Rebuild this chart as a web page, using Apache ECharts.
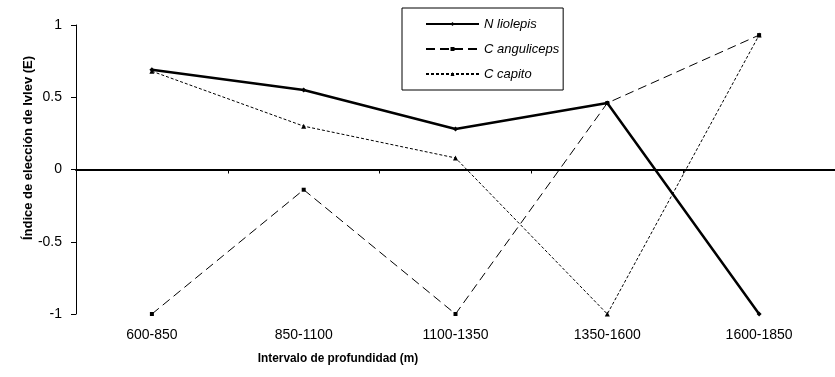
<!DOCTYPE html>
<html>
<head>
<meta charset="utf-8">
<script src="https://cdn.jsdelivr.net/npm/echarts@6/dist/echarts.min.js"></script>
<style>
  html, body { margin: 0; padding: 0; background: #fff; }
  #chart { width: 835px; height: 377px; }
</style>
</head>
<body>
<div id="chart"></div>
<script>
// Depth intervals (m)
const depthIntervals = ['600-850', '850-1100', '1100-1350', '1350-1600', '1600-1850'];

// Ivlev electivity index (E) per species
const nLiolepis    = [0.69, 0.55, 0.28, 0.46, -1];
const cAnguliceps  = [-1, -0.14, -1, 0.46, 0.93];
const cCapito      = [0.68, 0.30, 0.08, -1, 0.93];

const seriesNames = ['N liolepis', 'C anguliceps', 'C capito'];
const yTicks = { min: -1, max: 1, step: 0.5 };

const FONT = 'Liberation Sans, Arial, sans-serif';

const chart = echarts.init(document.getElementById('chart'), null, { renderer: 'canvas' });

chart.setOption({
  backgroundColor: '#ffffff',
  animation: false,
  textStyle: { fontFamily: FONT, color: '#000' },
  grid: { left: 76, top: 25, width: 769, height: 289, containLabel: false },
  legend: {
    orient: 'vertical',
    left: 402,
    top: 8,
    padding: [9, 4, 9, 23],
    itemGap: 11,
    itemWidth: 53,
    itemHeight: 5,
    borderColor: '#000',
    borderWidth: 1,
    backgroundColor: '#fff',
    data: seriesNames,
    textStyle: { fontFamily: FONT, fontSize: 13, fontStyle: 'italic', color: '#000', lineHeight: 14 }
  },
  xAxis: [
    {
      // zero line with boundary ticks
      type: 'category',
      data: depthIntervals,
      position: 'bottom',
      boundaryGap: true,
      axisLine: { show: true, onZero: true, lineStyle: { color: '#000', width: 2 } },
      axisTick: { show: true, length: 4, lineStyle: { color: '#000', width: 1 } },
      axisLabel: { show: false },
      splitLine: { show: false }
    },
    {
      // category labels along the bottom
      type: 'category',
      data: depthIntervals,
      position: 'bottom',
      boundaryGap: true,
      axisLine: { show: false, onZero: false },
      axisTick: { show: false },
      axisLabel: { show: true, margin: 14, fontSize: 14, color: '#000', fontFamily: FONT },
      splitLine: { show: false }
    }
  ],
  yAxis: {
    type: 'value',
    min: yTicks.min,
    max: yTicks.max,
    interval: yTicks.step,
    axisLine: { show: true, lineStyle: { color: '#000', width: 1 } },
    axisTick: { show: true, length: 5, lineStyle: { color: '#000', width: 1 } },
    axisLabel: { margin: 14, fontSize: 14, color: '#000', fontFamily: FONT },
    splitLine: { show: false }
  },
  graphic: [
    {
      type: 'text',
      x: 28, y: 148,
      rotation: Math.PI / 2,
      style: {
        text: 'Índice de elección de Ivlev (E)',
        font: 'bold 13px ' + FONT,
        fill: '#000',
        align: 'center',
        verticalAlign: 'middle'
      }
    },
    {
      type: 'text',
      x: 338, y: 358,
      scaleX: 0.91,
      style: {
        text: 'Intervalo de profundidad (m)',
        font: 'bold 13px ' + FONT,
        fill: '#000',
        align: 'center',
        verticalAlign: 'middle'
      }
    }
  ],
  series: [
    {
      name: seriesNames[0],
      type: 'line',
      data: nLiolepis,
      xAxisIndex: 0,
      symbol: 'diamond',
      symbolSize: 5,
      showSymbol: true,
      z: 4,
      lineStyle: { color: '#000', width: 2.5, type: 'solid' },
      itemStyle: { color: '#000' }
    },
    {
      name: seriesNames[1],
      type: 'line',
      data: cAnguliceps,
      xAxisIndex: 0,
      symbol: 'rect',
      symbolSize: 4,
      showSymbol: true,
      z: 3,
      lineStyle: { color: '#000', width: 1, type: [9, 5] },
      itemStyle: { color: '#000' }
    },
    {
      name: seriesNames[2],
      type: 'line',
      data: cCapito,
      xAxisIndex: 0,
      symbol: 'triangle',
      symbolSize: 5,
      showSymbol: true,
      z: 3,
      lineStyle: { color: '#000', width: 1, type: [3, 2] },
      itemStyle: { color: '#000' }
    }
  ]
});
</script>
</body>
</html>
